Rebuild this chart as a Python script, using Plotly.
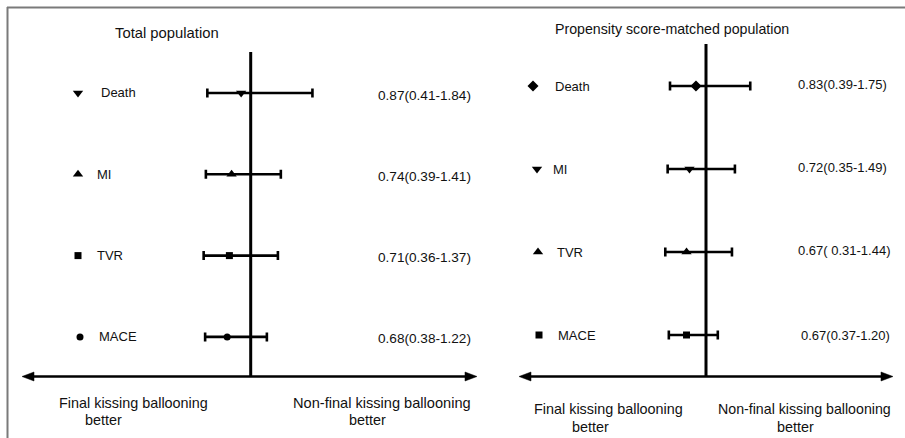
import plotly.graph_objects as go

W, H = 905, 438

# ---------------- data ----------------
outcomes_total = ["Death", "MI", "TVR", "MACE"]
hr_total = [0.87, 0.74, 0.71, 0.68]
lo_total = [0.41, 0.39, 0.36, 0.38]
hi_total = [1.84, 1.41, 1.37, 1.22]
txt_total = ["0.87(0.41-1.84)", "0.74(0.39-1.41)", "0.71(0.36-1.37)", "0.68(0.38-1.22)"]
sym_total = ["triangle-down", "triangle-up", "square", "circle"]

outcomes_psm = ["Death", "MI", "TVR", "MACE"]
hr_psm = [0.83, 0.72, 0.67, 0.67]
lo_psm = [0.39, 0.35, 0.31, 0.37]
hi_psm = [1.75, 1.49, 1.44, 1.20]
txt_psm = ["0.83(0.39-1.75)", "0.72(0.35-1.49)", "0.67( 0.31-1.44)", "0.67(0.37-1.20)"]
sym_psm = ["diamond", "triangle-down", "triangle-up", "square"]

title_total = "Total population"
title_psm = "Propensity score-matched population"
left_lbl = ["Final kissing ballooning", "better"]
right_lbl = ["Non-final kissing ballooning", "better"]

# ---------------- layout constants (pixels) ----------------
FONT = "Liberation Sans, Arial, sans-serif"
TXT = "#111111"
SIZE_OF = {"triangle-down": 9, "triangle-up": 9, "square": 7, "circle": 7, "diamond": 8.5}

# left panel scale: px = X1 + S*(hr-1)
L_X1, L_S = 250.7, 73.5
L_Y0, L_DY = 93.0, 81.3
R_X1, R_S = 706.0, 59.0
R_Y0, R_DY = 86.0, 83.0


def xrange_for(x1, s):
    return [1 - x1 / s, 1 + (W - x1) / s]


def yrange_for(y0, dy):
    return [(H - y0) / dy, -y0 / dy]


def px(x):
    return x / W


def py(y):
    return 1 - y / H


def mk(sym):
    return dict(symbol=sym, size=SIZE_OF[sym], color="black", opacity=1, line=dict(width=0))


fig = go.Figure()

# CI traces
for i, name in enumerate(outcomes_total):
    fig.add_trace(go.Scatter(
        x=[hr_total[i]], y=[i], mode="markers", xaxis="x", yaxis="y",
        marker=mk(sym_total[i]),
        error_x=dict(type="data", symmetric=False,
                     array=[hi_total[i] - hr_total[i]],
                     arrayminus=[hr_total[i] - lo_total[i]],
                     color="black", thickness=2.6, width=4.5),
        showlegend=False, hoverinfo="skip"))

for i, name in enumerate(outcomes_psm):
    fig.add_trace(go.Scatter(
        x=[hr_psm[i]], y=[i], mode="markers", xaxis="x2", yaxis="y2",
        marker=mk(sym_psm[i]),
        error_x=dict(type="data", symmetric=False,
                     array=[hi_psm[i] - hr_psm[i]],
                     arrayminus=[hr_psm[i] - lo_psm[i]],
                     color="black", thickness=2.6, width=4.5),
        showlegend=False, hoverinfo="skip"))

# row-label symbols (decoration, pixel overlay axis)
lab_sym_x_total = [78, 78, 78, 80]
lab_sym_x_psm = [533, 537, 538, 539]
for i in range(4):
    fig.add_trace(go.Scatter(
        x=[lab_sym_x_total[i]], y=[L_Y0 + L_DY * i],
        mode="markers", xaxis="x3", yaxis="y3", marker=mk(sym_total[i]),
        showlegend=False, hoverinfo="skip"))
    fig.add_trace(go.Scatter(
        x=[lab_sym_x_psm[i]], y=[R_Y0 + R_DY * i],
        mode="markers", xaxis="x3", yaxis="y3", marker=mk(sym_psm[i]),
        showlegend=False, hoverinfo="skip"))

shapes = []
# frame (top and left)
shapes.append(dict(type="line", xref="paper", yref="paper", x0=px(7), x1=px(W), y0=py(7.5), y1=py(7.5),
                   line=dict(color="#7a7a7a", width=2)))
shapes.append(dict(type="line", xref="paper", yref="paper", x0=px(7.5), x1=px(7.5), y0=py(7), y1=py(H),
                   line=dict(color="#7a7a7a", width=2)))
# null lines (HR = 1)
shapes.append(dict(type="line", xref="x", yref="paper", x0=1, x1=1, y0=py(52), y1=py(377),
                   line=dict(color="black", width=3)))
shapes.append(dict(type="line", xref="x2", yref="paper", x0=1, x1=1, y0=py(44), y1=py(377),
                   line=dict(color="black", width=3)))


def arrow(xa, xb, y):
    out = [dict(type="line", xref="paper", yref="paper", x0=px(xa + 6), x1=px(xb - 6), y0=py(y), y1=py(y),
                line=dict(color="black", width=2.6))]
    for tip, base in ((xa, xa + 12), (xb, xb - 12)):
        path = "M {:.5f} {:.5f} L {:.5f} {:.5f} L {:.5f} {:.5f} Z".format(
            px(tip), py(y), px(base), py(y - 4.5), px(base), py(y + 4.5))
        out.append(dict(type="path", xref="paper", yref="paper", path=path,
                        fillcolor="black", line=dict(color="black", width=0.5)))
    return out


shapes += arrow(22, 477, 376.5)
shapes += arrow(519, 893, 376.5)

ann = []


def text(x, y, s, size=13, anchor="left"):
    ann.append(dict(x=px(x), y=py(y), xref="paper", yref="paper", text=s, showarrow=False,
                    xanchor=anchor, yanchor="middle", font=dict(family=FONT, size=size, color=TXT)))


text(113, 33, title_total, 14.8)
text(553, 29, title_psm, 14.2)

lab_txt_x_total = [100, 96, 96, 98]
lab_txt_x_psm = [554, 552, 556, 557]
for i in range(4):
    yl = L_Y0 + L_DY * i
    text(lab_txt_x_total[i] - 1, yl, outcomes_total[i], 13)
    text(376, yl + 2, txt_total[i], 13.6)
    yr = R_Y0 + R_DY * i
    text(lab_txt_x_psm[i] - 1, yr, outcomes_psm[i], 13)
    text(796 if i < 3 else 799, yr - 2 if i < 3 else yr, txt_psm[i], 13)

text(57, 403, left_lbl[0], 14.4)
text(83, 420, left_lbl[1], 14.4)
text(291, 403, right_lbl[0], 14.6)
text(347, 420, right_lbl[1], 14.4)
text(532, 409, left_lbl[0], 14.4)
text(570, 427, left_lbl[1], 14.4)
text(716, 409, right_lbl[0], 14.2)
text(775, 427, right_lbl[1], 14.4)

ax_common = dict(visible=False, showgrid=False, zeroline=False, fixedrange=True)

fig.update_layout(
    width=W, height=H, margin=dict(l=0, r=0, t=0, b=0),
    paper_bgcolor="white", plot_bgcolor="rgba(0,0,0,0)",
    xaxis=dict(domain=[0, 1], range=xrange_for(L_X1, L_S), **ax_common),
    yaxis=dict(domain=[0, 1], range=yrange_for(L_Y0, L_DY), **ax_common),
    xaxis2=dict(domain=[0, 1], range=xrange_for(R_X1, R_S), overlaying="x", anchor="y2", **ax_common),
    yaxis2=dict(domain=[0, 1], range=yrange_for(R_Y0, R_DY), overlaying="y", anchor="x2", **ax_common),
    xaxis3=dict(domain=[0, 1], range=[0, W], overlaying="x", anchor="y3", **ax_common),
    yaxis3=dict(domain=[0, 1], range=[H, 0], overlaying="y", anchor="x3", **ax_common),
    shapes=shapes, annotations=ann, showlegend=False,
)

fig.write_html("out.html", config={"displayModeBar": False},
               post_script="document.body.style.margin='0';document.body.style.overflow='hidden';")
